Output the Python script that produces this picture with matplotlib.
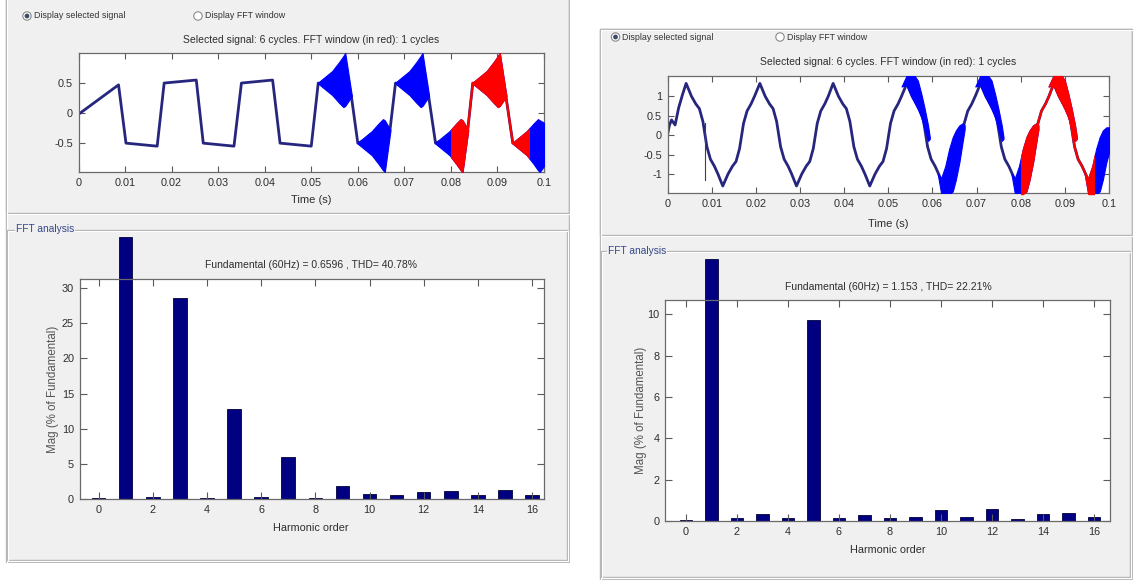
import matplotlib
matplotlib.use("Agg")
import matplotlib.pyplot as plt
from matplotlib import font_manager
from matplotlib.font_manager import FontProperties
from matplotlib.patches import Rectangle, Circle

W, H = 1135, 580

# ---------------- data ----------------
harmonics = list(range(17))
# visible bar heights (% of fundamental); the fundamental bar is cut by the panel
mag_left = [0.2, 37.3, 0.25, 28.6, 0.2, 12.8, 0.25, 5.97, 0.15, 1.8,
            0.7, 0.62, 0.95, 1.18, 0.55, 1.28, 0.55]
mag_right = [0.05, 12.67, 0.13, 0.36, 0.16, 9.72, 0.13, 0.28, 0.16, 0.2,
             0.55, 0.21, 0.58, 0.1, 0.36, 0.37, 0.21]

title_sig = "Selected signal: 6 cycles. FFT window (in red): 1 cycles"
title_fft_left = "Fundamental (60Hz) = 0.6596 , THD= 40.78%"
title_fft_right = "Fundamental (60Hz) = 1.153 , THD= 22.21%"

time_ticks = [0, 0.01, 0.02, 0.03, 0.04, 0.05, 0.06, 0.07, 0.08, 0.09, 0.1]
time_labels = ["0", "0.01", "0.02", "0.03", "0.04", "0.05", "0.06", "0.07",
               "0.08", "0.09", "0.1"]
fft_window = (0.0800, 0.0967)

# left signal: centre trace
left_t = [0.0, 0.0086, 0.0102, 0.0169, 0.0184, 0.0253, 0.0268, 0.0334, 0.0350,
          0.0417, 0.0433, 0.0500, 0.0515, 0.0586, 0.0600, 0.0669, 0.0681,
          0.0752, 0.0767, 0.0836, 0.0847, 0.0918, 0.0933, 0.1000]
left_y = [-0.02, 0.47, -0.50, -0.55, 0.50, 0.55, -0.50, -0.55, 0.50, 0.55,
          -0.50, -0.55, 0.50, 0.29, -0.50, -0.29, 0.50, 0.29, -0.50, -0.29,
          0.50, 0.29, -0.50, -0.52]
# left signal: ripple envelopes (t, upper, lower)
pos_up = [0.51, 0.70, 0.85, 0.95, 1.00, 0.30]
pos_lo = [0.49, 0.30, 0.17, 0.10, 0.12, 0.28]
neg_up = [-0.49, -0.30, -0.17, -0.10, -0.12, -0.28]
neg_lo = [-0.51, -0.70, -0.85, -0.95, -0.98, -0.30]
left_bands = [
    ([0.0515, 0.0545, 0.0560, 0.0569, 0.0573, 0.0587], pos_up, pos_lo),
    ([0.0600, 0.0630, 0.0645, 0.0654, 0.0658, 0.0670], neg_up, neg_lo),
    ([0.0681, 0.0711, 0.0726, 0.0735, 0.0739, 0.0753], pos_up, pos_lo),
    ([0.0767, 0.0797, 0.0812, 0.0821, 0.0825, 0.0837], neg_up, neg_lo),
    ([0.0847, 0.0877, 0.0892, 0.0901, 0.0905, 0.0919], pos_up, pos_lo),
    ([0.0933, 0.0963, 0.0978, 0.0987, 0.0991, 0.1000],
     [-0.49, -0.30, -0.17, -0.10, -0.12, -0.16],
     [-0.51, -0.70, -0.85, -0.95, -0.98, -0.88]),
]

# right signal: centre trace
right_t = [0.0000, 0.0004, 0.0009, 0.0017, 0.0025, 0.0034,
           0.0042, 0.0054, 0.0064, 0.0072, 0.0080, 0.0089, 0.0097, 0.0106, 0.0114,
           0.0125, 0.0137, 0.0147, 0.0155, 0.0163, 0.0172, 0.0180, 0.0189, 0.0197,
           0.0209, 0.0221, 0.0231, 0.0239, 0.0247, 0.0256, 0.0264, 0.0273, 0.0281,
           0.0292, 0.0304, 0.0314, 0.0322, 0.0330, 0.0339, 0.0347, 0.0356, 0.0364,
           0.0375, 0.0387, 0.0397, 0.0405, 0.0413, 0.0422, 0.0430, 0.0439, 0.0447,
           0.0458, 0.0470, 0.0480, 0.0488, 0.0496, 0.0505, 0.0513, 0.0522, 0.0530,
           0.0542, 0.0554, 0.0564, 0.0572, 0.0580, 0.0589, 0.0597, 0.0606, 0.0614,
           0.0625, 0.0637, 0.0647, 0.0655, 0.0663, 0.0672, 0.0680, 0.0689, 0.0697,
           0.0709, 0.0721, 0.0731, 0.0739, 0.0747, 0.0756, 0.0764, 0.0773, 0.0781,
           0.0792, 0.0804, 0.0814, 0.0822, 0.0830, 0.0839, 0.0847, 0.0856, 0.0864,
           0.0875, 0.0887, 0.0897, 0.0905, 0.0913, 0.0922, 0.0930, 0.0939, 0.0947,
           0.0958, 0.0970, 0.0980, 0.0988, 0.0996, 0.1000]
right_y = [0.02, 0.25, 0.39, 0.26, 0.70, 1.05,
           1.33, 1.00, 0.80, 0.68, 0.35, -0.30, -0.62, -0.80, -1.00,
           -1.31, -1.00, -0.80, -0.68, -0.35, 0.30, 0.62, 0.80, 1.00,
           1.33, 1.00, 0.80, 0.68, 0.35, -0.30, -0.62, -0.80, -1.00,
           -1.31, -1.00, -0.80, -0.68, -0.35, 0.30, 0.62, 0.80, 1.00,
           1.33, 1.00, 0.80, 0.68, 0.35, -0.30, -0.62, -0.80, -1.00,
           -1.31, -1.00, -0.80, -0.68, -0.35, 0.30, 0.62, 0.80, 1.00,
           1.33, 1.00, 0.80, 0.68, 0.35, -0.30, -0.62, -0.80, -1.00,
           -1.31, -1.00, -0.80, -0.68, -0.35, 0.30, 0.62, 0.80, 1.00,
           1.33, 1.00, 0.80, 0.68, 0.35, -0.30, -0.62, -0.80, -1.00,
           -1.31, -1.00, -0.80, -0.68, -0.35, 0.30, 0.62, 0.80, 1.00,
           1.33, 1.00, 0.80, 0.68, 0.35, -0.30, -0.62, -0.80, -1.00,
           -1.31, -1.00, -0.80, -0.68, -0.35, -0.05]
spike_t = [0.00847, 0.00847]
spike_y = [0.30, -1.16]
fall_up = [1.25, 1.52, 1.52, 1.52, 1.40, 1.05, 0.70, 0.25, -0.05]
fall_lo = [1.25, 1.28, 1.00, 0.82, 0.66, 0.45, 0.15, -0.15, -0.10]
rise_up = [-1.00, -1.10, -0.80, -0.35, -0.05, 0.12, 0.25, 0.30, 0.25]
rise_lo = [-1.00, -1.52, -1.52, -1.52, -1.45, -1.15, -0.70, -0.20, 0.15]
right_bands = [
    ([0.0530, 0.0541, 0.0552, 0.0560, 0.0567, 0.0575, 0.0582, 0.0590, 0.0594], fall_up, fall_lo),
    ([0.0612, 0.0620, 0.0629, 0.0638, 0.0646, 0.0653, 0.0661, 0.0668, 0.0673], rise_up, rise_lo),
    ([0.0697, 0.0708, 0.0719, 0.0727, 0.0734, 0.0742, 0.0749, 0.0757, 0.0761], fall_up, fall_lo),
    ([0.0779, 0.0787, 0.0796, 0.0805, 0.0813, 0.0820, 0.0828, 0.0835, 0.0840], rise_up, rise_lo),
    ([0.0863, 0.0874, 0.0885, 0.0893, 0.0900, 0.0908, 0.0915, 0.0923, 0.0927], fall_up, fall_lo),
    ([0.0945, 0.0953, 0.0962, 0.0971, 0.0979, 0.0986, 0.0994, 0.1000],
     [-1.00, -1.10, -0.80, -0.35, -0.05, 0.12, 0.20, 0.20],
     [-1.00, -1.52, -1.52, -1.52, -1.45, -1.15, -0.70, -0.45]),
]

# ---------------- fonts ----------------
names = {f.name for f in font_manager.fontManager.ttflist}
if "Liberation Sans Narrow" in names:
    narrow = dict(family="Liberation Sans Narrow")
else:
    narrow = dict(family="Liberation Sans")

TXT = "#2e2e2e"
PANEL = "#f0f0f0"
EDGE = "#b4b4b4"
TRACE = "#26267e"
BAR = "#000080"

fig = plt.figure(figsize=(W / 100, H / 100), dpi=100, facecolor="white")

# background layer in pixel coordinates
bg = fig.add_axes([0, 0, 1, 1], zorder=-10)
bg.set_xlim(0, W)
bg.set_ylim(H, 0)
bg.axis("off")


def frame(x0, y0, x1, y1, fill=None):
    if fill:
        bg.add_patch(Rectangle((x0, y0), x1 - x0, y1 - y0, fc=fill, ec="none"))
    bg.add_patch(Rectangle((x0, y0), x1 - x0, y1 - y0, fc="none", ec=EDGE, lw=1))
    bg.add_patch(Rectangle((x0 + 1, y0 + 1), x1 - x0, y1 - y0, fc="none", ec="white", lw=0.8))


frame(5.5, -2, 569, 562, fill=PANEL)
frame(5.5, -2, 569, 213)
frame(7, 230, 567, 560)
frame(600, 29, 1132, 579, fill=PANEL)
frame(600, 29, 1132, 235)
frame(601, 251, 1130, 577)


def ftext(x, y, s, size=8, color=TXT, ha="center", rot=0, fam=None, **kw):
    f = fam if fam is not None else narrow
    fig.text(x / W, 1 - y / H, s, ha=ha, va="center", fontsize=size, color=color,
             rotation=rot, **f, **kw)


def radio(x, y, label, selected):
    bg.add_patch(Circle((x, y), 4.2, fc="white", ec="#8a8a8a", lw=0.8))
    if selected:
        bg.add_patch(Circle((x, y), 2.4, fc="#3c4a6c", ec="none"))
    ftext(x + 7, y, label, size=6.4, color="#333333", ha="left")


radio(27, 16, "Display selected signal", True)
radio(198, 16, "Display FFT window", False)
radio(615.5, 37, "Display selected signal", True)
radio(780, 37, "Display FFT window", False)

ftext(16, 229, "FFT analysis", size=7.3, color="#34468c", ha="left",
      bbox=dict(fc=PANEL, ec="none", pad=0.5))
ftext(608, 251, "FFT analysis", size=7.3, color="#34468c", ha="left",
      bbox=dict(fc=PANEL, ec="none", pad=0.5))


def px_axes(x0, y0, x1, y1):
    return fig.add_axes([x0 / W, 1 - y1 / H, (x1 - x0) / W, (y1 - y0) / H])


def style(ax, ticklen):
    for sp in ax.spines.values():
        sp.set_color("#6a6a6a")
        sp.set_linewidth(0.9)
    ax.tick_params(direction="in", top=True, right=True, length=ticklen,
                   width=0.8, color="#5a5a5a", labelcolor=TXT, pad=4)
    fp = FontProperties(size=7.8, **narrow)
    for lab in ax.get_xticklabels() + ax.get_yticklabels():
        lab.set_fontproperties(fp)


def signal_axes(box, t, y, bands, ylim, yticks):
    ax = px_axes(*box)
    ax.set_facecolor("white")
    ax.plot(t, y, color=TRACE, lw=2.0, zorder=2, solid_joinstyle="round")
    red = Rectangle((fft_window[0], -5), fft_window[1] - fft_window[0], 10,
                    transform=ax.transData)
    for bt, bu, bl in bands:
        ax.fill_between(bt, bu, bl, color="#0000ff", lw=0.8, zorder=3)
        pc = ax.fill_between(bt, bu, bl, color="#ff0000", lw=0.8, zorder=4)
        pc.set_clip_path(red)
    ln, = ax.plot(t, y, color="#ff0000", lw=1.6, zorder=4)
    ln.set_clip_path(red)
    ax.set_xlim(0, 0.1)
    ax.set_ylim(*ylim)
    ax.set_xticks(time_ticks)
    ax.set_xticklabels(time_labels)
    ax.set_yticks(yticks)
    ax.set_yticklabels([("%g" % v) for v in yticks])
    style(ax, 4)
    return ax


def fft_axes(box, mag, xlim, ylim, yticks):
    ax = px_axes(*box)
    ax.set_facecolor("white")
    ax.bar(harmonics, mag, width=0.5, color=BAR, edgecolor="#00003c", lw=0.6,
           clip_on=False, zorder=1)
    ax.set_xlim(*xlim)
    ax.set_ylim(*ylim)
    ax.set_xticks(range(0, 17, 2))
    ax.set_yticks(yticks)
    style(ax, 5)
    return ax


# left panel
signal_axes((78.5, 53, 544, 172), left_t, left_y, left_bands, (-0.98, 1.0), [-0.5, 0, 0.5])
ftext(311, 40, title_sig, size=7.5)
ftext(311, 200, "Time (s)", size=8)
fft_axes((79.6, 279, 544, 499), mag_left, (-0.70, 16.44), (0, 31.3), [0, 5, 10, 15, 20, 25, 30])
ftext(311, 265, title_fft_left, size=7.5)
ftext(311, 528, "Harmonic order", size=7.8)
ftext(53, 389, "Mag (% of Fundamental)", size=8.3, color="#555555", rot=90,
      fam=dict(family="Liberation Sans"))

# right panel
ax_r = signal_axes((667.6, 76, 1109, 193), right_t, right_y, right_bands, (-1.49, 1.52),
                   [-1, -0.5, 0, 0.5, 1])
ax_r.plot(spike_t, spike_y, color="#404040", lw=0.8, zorder=2)
ftext(888, 62, title_sig, size=7.5)
ftext(888, 224, "Time (s)", size=8)
fft_axes((665, 300, 1110, 521), mag_right, (-0.82, 16.63), (0, 10.7), [0, 2, 4, 6, 8, 10])
ftext(888, 287, title_fft_right, size=7.5)
ftext(888, 550, "Harmonic order", size=7.8)
ftext(641, 410, "Mag (% of Fundamental)", size=8.3, color="#555555", rot=90,
      fam=dict(family="Liberation Sans"))

fig.savefig("out.png", dpi=100, facecolor="white")
